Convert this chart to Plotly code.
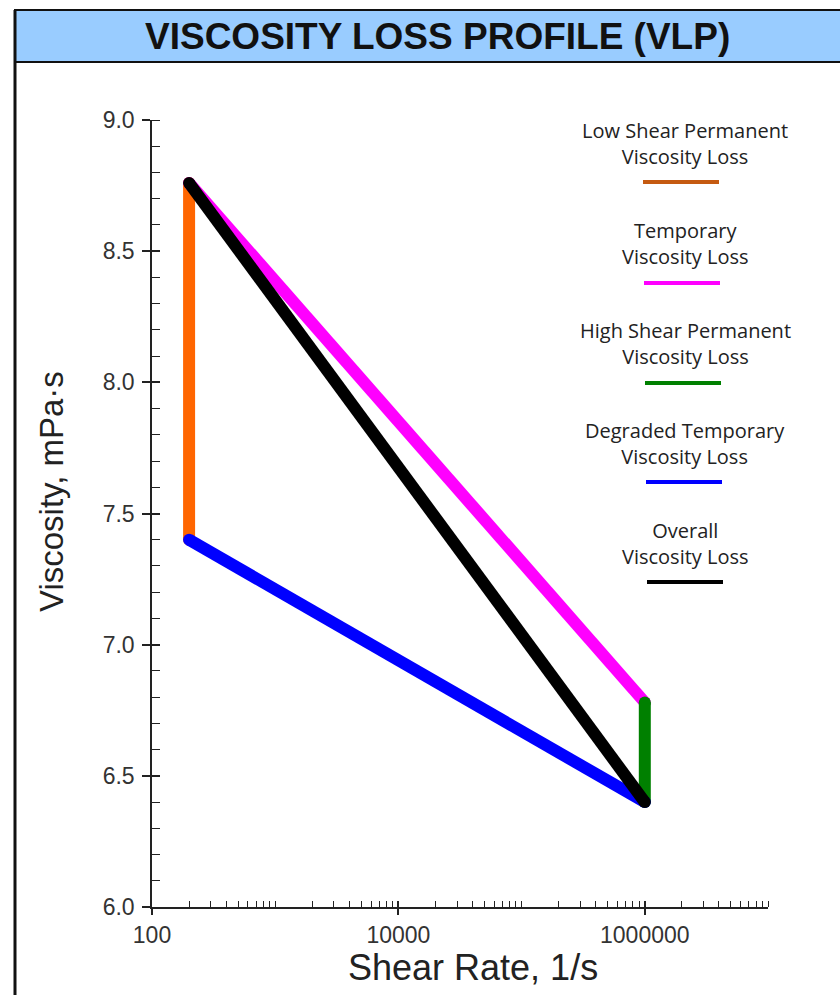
import plotly.graph_objects as go

# ---- data ----
shear_low = 200
shear_high = 1000000
visc_fresh_low = 8.76
visc_sheared_low = 7.40
visc_fresh_high = 6.78
visc_sheared_high = 6.40

series_names = [
    "Low Shear Permanent<br>Viscosity Loss",
    "Temporary<br>Viscosity Loss",
    "High Shear Permanent<br>Viscosity Loss",
    "Degraded Temporary<br>Viscosity Loss",
    "Overall<br>Viscosity Loss",
]
series_x = [
    [shear_low, shear_low],
    [shear_low, shear_high],
    [shear_high, shear_high],
    [shear_low, shear_high],
    [shear_low, shear_high],
]
series_y = [
    [visc_fresh_low, visc_sheared_low],
    [visc_fresh_low, visc_fresh_high],
    [visc_fresh_high, visc_sheared_high],
    [visc_sheared_low, visc_sheared_high],
    [visc_fresh_low, visc_sheared_high],
]
line_colors = ["#FF6600", "#FF00FF", "#008000", "#0000FF", "#000000"]
swatch_colors = ["#C55A11", "#FF00FF", "#008000", "#0000FF", "#000000"]
draw_order = [0, 1, 2, 3, 4]

x_major = [100, 10000, 1000000]
x_major_text = ["100", "10000", "1000000"]
x_minor = [m * 10 ** e for e in range(2, 7) for m in range(2, 10)] + [1000, 100000, 10000000]
y_major = [6.0, 6.5, 7.0, 7.5, 8.0, 8.5, 9.0]
y_minor = [round(6.0 + 0.1 * i, 1) for i in range(31)]

# ---- layout geometry (pixels) ----
W, H = 840, 995
L, R, T, B = 152, 768, 120, 907


def px(x):
    return (x - L) / (R - L)


def py(y):
    return (B - y) / (B - T)


fig = go.Figure()
for i in draw_order:
    fig.add_trace(go.Scatter(
        x=series_x[i], y=series_y[i], mode="lines+markers",
        line=dict(color=line_colors[i], width=12),
        marker=dict(color=line_colors[i], size=12),
        name=series_names[i], showlegend=False, hoverinfo="skip",
    ))
# overlay axes carrying the inside half of the major ticks
fig.add_trace(go.Scatter(x=[None], y=[None], xaxis="x2", yaxis="y2",
                         showlegend=False, hoverinfo="skip"))

tickfont = dict(family="Liberation Sans, Arial", size=23, color="#333333")

fig.update_layout(
    width=W, height=H,
    margin=dict(l=L, r=W - R, t=T, b=H - B, pad=0),
    paper_bgcolor="white", plot_bgcolor="white",
    showlegend=False,
    xaxis=dict(
        type="log", range=[2, 7], tickmode="array", tickvals=x_major, ticktext=x_major_text,
        ticks="outside", ticklen=6, tickwidth=1.5, tickcolor="#222",
        showline=True, linecolor="#222", linewidth=1.5, showgrid=False, zeroline=False,
        tickfont=tickfont, ticklabelstandoff=1,
        minor=dict(tickmode="array", tickvals=x_minor, ticks="inside", ticklen=6,
                   tickwidth=1.2, tickcolor="#222", showgrid=False),
    ),
    yaxis=dict(
        range=[6, 9], tickmode="array", tickvals=y_major, tickformat=".1f",
        ticks="outside", ticklen=8, tickwidth=1.5, tickcolor="#222",
        showline=True, linecolor="#222", linewidth=1.5, showgrid=False, zeroline=False,
        tickfont=tickfont, ticklabelstandoff=3,
        minor=dict(tickmode="array", tickvals=y_minor, ticks="inside", ticklen=8,
                   tickwidth=1.2, tickcolor="#222", showgrid=False),
    ),
    xaxis2=dict(type="log", range=[2, 7], overlaying="x", anchor="y2", side="bottom",
                tickmode="array", tickvals=x_major, ticks="inside", ticklen=6,
                tickwidth=1.5, tickcolor="#222", showticklabels=False,
                showline=False, showgrid=False, zeroline=False),
    yaxis2=dict(range=[6, 9], overlaying="y", anchor="x2", side="left",
                tickmode="array", tickvals=y_major, ticks="inside", ticklen=8,
                tickwidth=1.5, tickcolor="#222", showticklabels=False,
                showline=False, showgrid=False, zeroline=False),
)

# axis titles
fig.add_annotation(text="Shear Rate, 1/s", xref="paper", yref="paper",
                   x=px(473), y=py(968), showarrow=False, xanchor="center", yanchor="middle",
                   font=dict(family="Liberation Sans, Arial", size=36, color="#222"))
fig.add_annotation(text="Viscosity, mPa·s", xref="paper", yref="paper", textangle=-90,
                   x=px(51), y=py(491), showarrow=False, xanchor="center", yanchor="middle",
                   font=dict(family="Liberation Sans, Arial", size=33, color="#222"))

# frame + title band
band_top, band_bot = 10, 62
fig.add_shape(type="rect", xref="paper", yref="paper",
              x0=px(15), x1=px(842), y0=py(band_bot), y1=py(band_top),
              fillcolor="#99CCFF", line=dict(color="#111", width=2), layer="below")
fig.add_shape(type="line", xref="paper", yref="paper",
              x0=px(15), x1=px(15), y0=py(band_top), y1=py(1000),
              line=dict(color="#111", width=3))
fig.add_annotation(text="<b>VISCOSITY LOSS PROFILE (VLP)</b>", xref="paper", yref="paper",
                   x=px(437), y=py(37), showarrow=False, xanchor="center", yanchor="middle",
                   font=dict(family="Liberation Sans, Arial", size=37, color="#111"))

# legend: text above a short line swatch
leg_cx = 685
leg_text_y = [143, 243, 343, 443, 543]
leg_line_y = [182, 283, 383, 482, 582]
for i in range(5):
    fig.add_annotation(text=series_names[i], xref="paper", yref="paper",
                       x=px(leg_cx), y=py(leg_text_y[i]), showarrow=False,
                       xanchor="center", yanchor="middle", align="center",
                       font=dict(family="Open Sans", size=20, color="#222"))
    fig.add_shape(type="line", xref="paper", yref="paper",
                  x0=px(leg_cx - 42 + i), x1=px(leg_cx + 34 + i),
                  y0=py(leg_line_y[i]), y1=py(leg_line_y[i]),
                  line=dict(color=swatch_colors[i], width=4))

fig.write_html("out.html")
